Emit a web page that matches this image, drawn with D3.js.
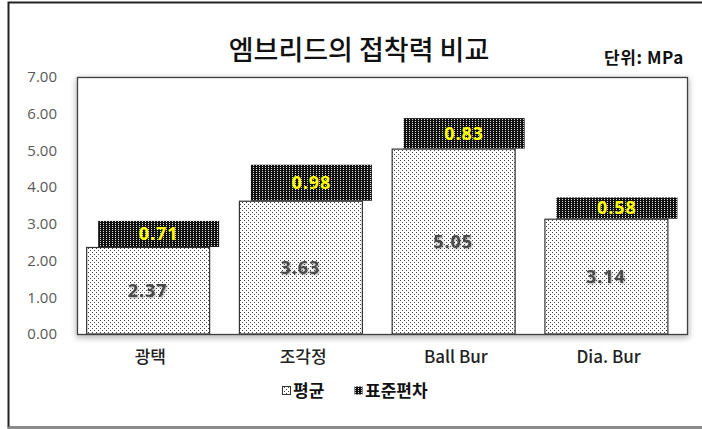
<!DOCTYPE html>
<html>
<head>
<meta charset="utf-8">
<script src="https://cdn.jsdelivr.net/npm/d3@7/dist/d3.min.js"></script>
<style>
  html, body { margin: 0; padding: 0; background: #fff; }
  svg { display: block; font-family: "Noto Sans CJK KR", "Noto Sans", sans-serif; }
</style>
</head>
<body>
<svg id="chart" width="702" height="429"></svg>
<script>
// Adhesion strength per finishing method (MPa)
const categories = ["광택", "조각정", "Ball Bur", "Dia. Bur"];
const meanValues = [2.37, 3.63, 5.05, 3.14];
const sdValues = [0.71, 0.98, 0.83, 0.58];
const yTicks = [0, 1, 2, 3, 4, 5, 6, 7];
const seriesNames = ["평균", "표준편차"];

const svg = d3.select("#chart");
const defs = svg.append("defs");

// dotted fill for the mean columns
const pMean = defs.append("pattern").attr("id", "pMean")
  .attr("patternUnits", "userSpaceOnUse").attr("width", 4).attr("height", 4);
pMean.append("rect").attr("width", 4).attr("height", 4).attr("fill", "#fff");
pMean.append("rect").attr("x", 0).attr("y", 0).attr("width", 1).attr("height", 1).attr("fill", "#444");
pMean.append("rect").attr("x", 2).attr("y", 2).attr("width", 1).attr("height", 1).attr("fill", "#444");

// dense dark fill for the standard deviation blocks
const pSd = defs.append("pattern").attr("id", "pSd")
  .attr("patternUnits", "userSpaceOnUse").attr("width", 3).attr("height", 2);
pSd.append("rect").attr("width", 3).attr("height", 2).attr("fill", "#111");
pSd.append("rect").attr("x", 1).attr("y", 1).attr("width", 1).attr("height", 1).attr("fill", "#ddd");

// soft shadow around the plot area
const blur = defs.append("filter").attr("id", "soft")
  .attr("x", "-10%").attr("y", "-10%").attr("width", "120%").attr("height", "125%");
blur.append("feGaussianBlur").attr("stdDeviation", 3);

const labelShadow = defs.append("filter").attr("id", "lblShadow")
  .attr("x", "-20%").attr("y", "-30%").attr("width", "140%").attr("height", "160%");
labelShadow.append("feDropShadow").attr("dx", 1).attr("dy", 1)
  .attr("stdDeviation", 0.8).attr("flood-color", "#000").attr("flood-opacity", 0.35);

// outer frame (left, top, bottom edges)
svg.append("path")
  .attr("d", "M720,2.5 H8.5 V427.5 H720")
  .attr("fill", "none").attr("stroke", "#222").attr("stroke-width", 2);
svg.append("line").attr("x1", 8).attr("x2", 702).attr("y1", 427.5).attr("y2", 427.5)
  .attr("stroke", "#888").attr("stroke-width", 2);

const plot = { left: 77, right: 688, top: 77, bottom: 334 };

const x = d3.scaleBand().domain(categories).range([plot.left, plot.right]).padding(0);
const y = d3.scaleLinear().domain([0, 7]).range([plot.bottom, plot.top]);
const step = x.bandwidth();

// plot-area shadow and frame
svg.append("rect")
  .attr("x", plot.left - 1).attr("y", plot.top + 1)
  .attr("width", plot.right - plot.left + 2).attr("height", plot.bottom - plot.top + 3)
  .attr("fill", "#000").attr("opacity", 0.28).attr("filter", "url(#soft)");
svg.append("rect")
  .attr("x", plot.left).attr("y", plot.top)
  .attr("width", plot.right - plot.left).attr("height", plot.bottom - plot.top)
  .attr("fill", "#fff");

// y axis labels
const yAxis = d3.axisLeft(y).tickValues(yTicks).tickFormat(d3.format(".2f")).tickSize(0).tickPadding(0);
const gy = svg.append("g").attr("transform", `translate(57,0)`).call(yAxis);
gy.select(".domain").remove();
gy.selectAll("text").attr("fill", "#595959").attr("font-size", 15)
  .attr("font-family", "'Open Sans', 'Noto Sans', sans-serif");

const meanOffset = step * 0.06, meanWidth = step * 0.805;
const sdOffset = meanOffset + 12, sdWidth = step * 0.792;

// standard deviation blocks stacked above each mean
svg.append("g").selectAll("rect").data(categories).join("rect")
  .attr("x", (d) => x(d) + sdOffset)
  .attr("y", (d, i) => y(meanValues[i] + sdValues[i]))
  .attr("width", sdWidth)
  .attr("height", (d, i) => y(meanValues[i]) - y(meanValues[i] + sdValues[i]))
  .attr("fill", "url(#pSd)");

// mean columns
svg.append("g").selectAll("rect").data(categories).join("rect")
  .attr("x", (d) => x(d) + meanOffset + 0.5)
  .attr("y", (d, i) => y(meanValues[i]) + 0.5)
  .attr("width", meanWidth)
  .attr("height", (d, i) => y(0) - y(meanValues[i]) - 0.5)
  .attr("fill", "url(#pMean)").attr("stroke", "#333").attr("stroke-width", 1.2);

// plot frame on top
svg.append("rect")
  .attr("x", plot.left + 0.5).attr("y", plot.top + 0.5)
  .attr("width", plot.right - plot.left - 1).attr("height", plot.bottom - plot.top)
  .attr("fill", "none").attr("stroke", "#404040").attr("stroke-width", 1.3);

// value labels
svg.append("g").selectAll("text").data(categories).join("text")
  .attr("x", (d) => x(d) + meanOffset + meanWidth / 2)
  .attr("y", (d, i) => (y(meanValues[i]) + y(0)) / 2)
  .attr("dy", "0.35em").attr("text-anchor", "middle")
  .attr("font-size", 18).attr("font-weight", 700).attr("fill", "#4a4a4a")
  .attr("letter-spacing", 1)
  .attr("font-family", "'Open Sans', 'Noto Sans', sans-serif")
  .attr("filter", "url(#lblShadow)")
  .text((d, i) => meanValues[i].toFixed(2));

svg.append("g").selectAll("text").data(categories).join("text")
  .attr("x", (d) => x(d) + sdOffset + sdWidth / 2)
  .attr("y", (d, i) => (y(meanValues[i]) + y(meanValues[i] + sdValues[i])) / 2)
  .attr("dy", "0.35em").attr("text-anchor", "middle")
  .attr("font-size", 18).attr("font-weight", 700).attr("fill", "#ffff00")
  .attr("letter-spacing", 1)
  .attr("font-family", "'Open Sans', 'Noto Sans', sans-serif")
  .text((d, i) => sdValues[i].toFixed(2));

// category labels
const xAxis = d3.axisBottom(x).tickSize(0).tickPadding(0);
const gx = svg.append("g").attr("transform", `translate(-3,${plot.bottom + 23})`).call(xAxis);
gx.select(".domain").remove();
gx.selectAll("text").attr("fill", "#222").attr("font-size", 17).attr("font-weight", 500)
  .attr("dy", "0.35em")
  .attr("font-family", "'Noto Sans CJK KR', 'Open Sans', sans-serif");

// title and unit
svg.append("text").attr("x", 359).attr("y", 50).attr("dy", "0.36em").attr("text-anchor", "middle")
  .attr("font-size", 27).attr("font-weight", 500).attr("fill", "#111")
  .text("엠브리드의 접착력 비교");
svg.append("text").attr("x", 684).attr("y", 58).attr("dy", "0.36em").attr("text-anchor", "end")
  .attr("font-size", 17).attr("font-weight", 700).attr("fill", "#111")
  .attr("letter-spacing", 0.6)
  .text("단위: MPa");

// legend
const legend = svg.append("g").attr("transform", "translate(0,391)");
const legendItems = [
  { name: seriesNames[0], sx: 282, fill: "url(#pMean)", stroke: "#333" },
  { name: seriesNames[1], sx: 354, fill: "url(#pSd)", stroke: "none" }
];
legendItems.forEach((it) => {
  legend.append("rect").attr("x", it.sx + 0.5).attr("y", -4.5).attr("width", 8).attr("height", 8)
    .attr("fill", it.fill).attr("stroke", it.stroke).attr("stroke-width", 1);
  legend.append("text").attr("x", it.sx + 11).attr("y", 0).attr("dy", "0.36em")
    .attr("font-size", 17).attr("font-weight", 700).attr("fill", "#111")
    .text(it.name);
});
</script>
</body>
</html>
